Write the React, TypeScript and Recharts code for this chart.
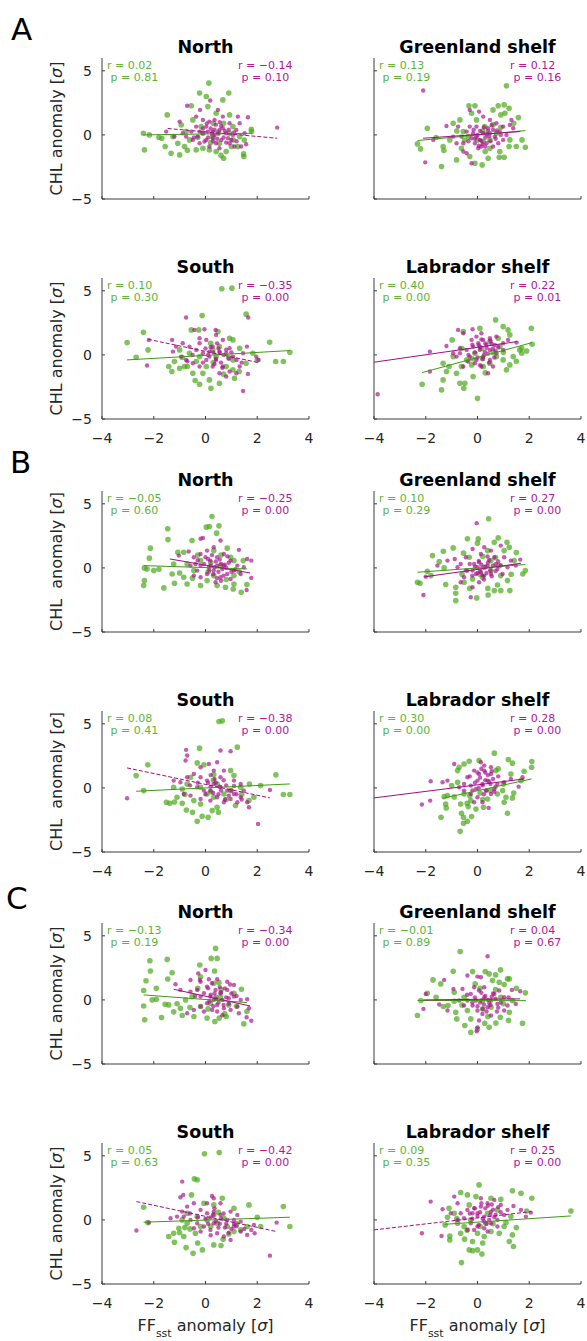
import React from 'react';
import { ScatterChart, Scatter, XAxis, YAxis } from 'recharts';

type Pt = [number, number];

// ---------- A ----------
const aNorthGreen: Pt[] = [[-2.4,0.13],[-2.17,0],[-2.36,-1.17],[-1.69,-0.26],[-1.56,-0.91],[-1.48,1.56],[-1.33,-1.43],[-1.0,-1.56],[-1.07,-0.65],[-0.94,0.78],[-0.81,-0.91],[-0.55,2.27],[-0.23,3.26],[0.03,3.0],[0.13,4.04],[0.09,2.21],[0.67,2.73],[0.9,3.26],[0.93,1.56],[0.41,1.69],[0.54,-0.65],[0.8,-1.3],[0.7,-1.82],[1.06,-0.39],[1.32,-0.13],[1.47,-1.48],[1.48,-1.69],[1.78,0.26],[1.77,0.44],[-0.62,-0.39],[-0.36,-1.17],[-0.1,-1.04],[0.15,-1.17],[-0.17,0.65],[-0.75,0.26],[-1.26,-0.13],[0.28,-0.13],[1.06,0.65],[0.41,-1.3],[-0.49,1.17],[-0.1,0.13],[0.93,0.13],[1.25,-0.91],
  [0.2,-0.6],[0.5,0.2],[-0.3,-0.2],[1.0,-0.9],[0.7,0.9],[-0.7,-1.2],[1.5,-0.4],[0.3,0.9],[-1.8,-0.2],[0.6,-1.6]];
const aNorthMagenta: Pt[] = [[2.77,0.57],[1.57,-0.73],[1.64,1.38],[1.25,1.43],[-0.71,2.27],[-1.0,1.04],[-1.2,-0.13],[-1.52,0.26],[-0.21,1.95],[0.18,2.68],[0.35,1.17],[-0.36,0.65],[-0.1,0.13],[0.03,-0.39],[0.28,0.26],[0.54,0.39],[0.8,0.13],[1.06,0],[0.41,-0.65],[0.15,-0.91],[-0.23,-0.65],[-0.49,-0.39],[-0.75,-0.13],[0.67,1.43],[0.93,0.91],[1.19,0.39],[1.38,-0.91],[0.93,-0.65],[-0.1,1.17],[-0.36,1.43],[0.48,1.95],[0.03,0.65],[0.28,-0.26],[0.54,-1.04],[-0.23,0.26],[-0.55,0.26],[-0.88,0.13],[0.15,1.04],[0.67,0.52],[1.12,-0.91],[1.51,0.13],[-0.04,-0.52],[0.35,0],[0.09,0.26],[0.61,-0.39],[0.87,-0.26],[-0.3,-0.13],[1.32,0.91],
  [0.2,0.5],[0.4,0.8],[0.5,0.1],[0.7,-0.2],[0.9,0.4],[1.0,-0.4],[0.3,-0.5],[0.1,-0.2],[-0.1,0.5],[0.6,0.7],[0.8,-0.6],[1.1,0.2],[0.45,-0.3],[0.25,0.1],[0.75,0.3],[0.05,0.9],[-0.45,-0.2],[1.2,-0.5],[0.55,1.0],[0.35,0.4]];
const aNorthGreenFit: Pt[] = [[-2.4,0.0],[1.8,0.13]];
const aNorthMagentaFit: Pt[] = [[-1.46,0.5],[2.77,-0.26]];
const aNorthR = [0.02, -0.14];
const aNorthP = [0.81, 0.10];

const aGreenlandGreen: Pt[] = [[1.12,3.83],[-2.32,-0.7],[-2.2,-1.09],[-1.94,0.52],[-1.39,-2.47],[-1.33,-0.91],[-1.3,-1.22],[-0.94,0.91],[-0.81,-1.95],[-0.62,-1.04],[-0.68,1.17],[-0.33,2.27],[-0.1,2.27],[-0.23,1.69],[-0.04,1.17],[0.18,-2.34],[-0.1,-2.21],[0.41,-1.82],[0.6,1.95],[0.8,2.27],[1.03,2.34],[1.22,2.08],[0.9,1.56],[1.06,1.69],[1.58,1.35],[1.72,-0.39],[1.85,-0.96],[1.22,-0.91],[0.86,-1.3],[1.03,-1.74],[0.84,-1.74],[0.22,-0.52],[0.48,-0.39],[-0.36,-0.13],[-0.55,0.26],[0.28,0.65],[0.73,0.13],[1.25,-0.39],[-1.07,-0.39],[-0.3,-1.69],[0.48,-1.04],
  [0.0,-0.4],[0.6,0.8],[-0.5,-0.4],[1.4,0.9],[0.3,-1.3],[-1.6,-0.2],[1.5,-0.9],[0.9,0.6],[-0.8,0.3],[0.2,0.3]];
const aGreenlandMagenta: Pt[] = [[-2.1,3.46],[-2.02,-2.14],[-1.71,-0.39],[-1.2,0.7],[-0.75,0.65],[-0.55,-0.65],[-0.42,-1.43],[-0.23,-2.21],[-0.3,1.95],[0.06,1.82],[0.22,1.43],[0.48,1.17],[0.73,0.91],[0.99,0.65],[1.25,0.78],[1.38,0.52],[1.31,1.17],[-0.17,0.13],[-0.04,-0.13],[0.09,-0.39],[0.22,0.13],[0.35,-0.65],[-0.1,-0.65],[-0.23,-0.26],[-0.42,0.26],[-0.81,-0.65],[-0.94,-0.13],[0.48,0.13],[0.67,-0.13],[0.86,0.26],[0.8,-0.65],[0.15,-0.91],[0.03,-1.04],[0.6,-0.91],[0.99,-0.39],[1.12,0],[-0.55,-1.3],[-0.3,0.65],[-0.04,0.65],[0.41,0.52],[-0.62,-0.13],
  [0.1,0.3],[0.3,-0.2],[0.5,-0.5],[0.2,-0.7],[0.0,0.0],[0.4,0.3],[0.6,0.4],[-0.1,-0.3],[0.25,0.6],[0.7,-0.3],[0.45,-0.1],[0.15,-0.45],[-0.35,-0.5],[0.9,0.0],[0.55,0.75],[0.05,-0.85],[0.35,0.05],[-0.15,0.4],[0.75,0.35],[0.3,-0.9]];
const aGreenlandGreenFit: Pt[] = [[-2.32,-0.44],[1.85,0.34]];
const aGreenlandMagentaFit: Pt[] = [[-2.1,-0.26],[1.66,0.26]];
const aGreenlandR = [0.13, 0.12];
const aGreenlandP = [0.19, 0.16];

const aSouthGreen: Pt[] = [[-3.03,0.96],[-2.68,-0.18],[-2.4,1.77],[-2.22,0.39],[0.63,5.16],[1.02,5.21],[1.57,3.18],[-0.13,3.07],[2.48,0.99],[2.71,-0.52],[3.01,-0.52],[3.26,0.21],[-0.55,1.95],[-0.26,1.95],[0.48,1.82],[0.93,1.3],[1.06,1.17],[1.32,0.52],[-0.23,-2.29],[0.21,-2.6],[0.15,-1.95],[0.54,-2.21],[1.12,-1.82],[-1.0,-1.04],[-0.81,-0.91],[-1.42,-0.91],[-1.2,-0.52],[-0.49,-1.43],[-0.1,-1.43],[0.03,-0.91],[0.8,-0.91],[1.06,-1.17],[0.41,-0.13],[-0.23,-0.13],[-0.62,0.13],[-1.0,0.39],[1.83,0.13],[1.57,-0.65],[1.06,-0.39],[0.28,0.39],[-0.36,-0.52],[0.54,0.65],
  [-0.9,-0.2],[0.3,-0.6],[-1.3,-1.3],[0.9,-0.2],[-0.4,-2.0],[1.3,-1.3],[0.2,0.9],[-0.7,-0.9],[2.0,-0.4],[0.7,-1.5]];
const aSouthMagenta: Pt[] = [[-2.26,-0.83],[-2.19,1.17],[-1.29,1.17],[-0.75,2.92],[-0.43,1.95],[-0.04,2.0],[0.39,1.95],[1.65,2.92],[0.41,1.56],[1.45,-2.81],[1.64,-1.48],[1.96,-0.13],[2.05,-0.39],[1.6,0.65],[1.32,-0.91],[1.19,-1.43],[0.93,-1.3],[0.67,-0.91],[0.41,-0.39],[0.15,-0.13],[-0.1,0.13],[-0.36,0.39],[-0.62,0.65],[-0.88,0.91],[-1.14,0.65],[-1.26,0.26],[-0.23,0.91],[0.28,0.65],[0.54,0.26],[0.8,0.13],[1.06,-0.13],[0.03,-0.39],[-0.23,-0.91],[-0.49,-0.65],[-0.75,-0.39],[0.28,-0.91],[0.54,-1.43],[0.8,-1.69],[0.03,1.17],[0.67,1.17],[0.93,0.52],[1.45,0.13],[-0.23,1.3],[-0.94,-0.13],[0.15,0.26],
  [0.3,0.2],[0.5,0.5],[0.7,0.0],[0.4,-0.3],[0.6,-0.6],[0.2,0.6],[0.9,-0.3],[0.1,0.0],[0.8,0.4],[0.45,0.9],[1.2,-0.4],[0.65,-1.0],[-0.5,0.0],[0.0,0.5],[1.0,0.2],[0.35,-0.7],[-0.7,-0.5],[1.4,-0.6],[0.55,0.15],[-0.1,-0.6]];
const aSouthGreenFit: Pt[] = [[-3.03,-0.39],[3.26,0.34]];
const aSouthMagentaFit: Pt[] = [[-2.22,1.22],[2.05,-0.6]];
const aSouthR = [0.10, -0.35];
const aSouthP = [0.30, 0.00];

const aLabradorGreen: Pt[] = [[0.7,2.73],[0.99,2.21],[1.18,1.95],[2.08,2.08],[2.11,0.83],[1.71,0.13],[1.71,0.52],[-2.14,-2.29],[-1.39,-2.73],[-1.33,-1.95],[-1.2,-1.3],[-1.33,-0.65],[-0.98,1.17],[-0.55,1.82],[0.09,2.08],[0,-3.39],[-0.53,-2.6],[-0.68,-2.21],[-0.49,-2.21],[-0.17,-1.69],[-0.81,-1.43],[-0.62,-0.91],[-0.42,-0.39],[-0.23,-0.78],[0.22,-0.91],[0.48,-0.65],[0.73,-0.13],[0.99,-0.39],[1.25,-0.78],[1.12,-1.17],[1.38,-0.13],[1.63,0.39],[0.86,0.65],[0.48,1.04],[1.25,1.56],[-0.1,0.13],[-0.94,-0.13],[0.15,0.52],
  [0.2,-0.3],[0.6,0.2],[-0.2,-0.3],[1.0,0.2],[0.3,-1.4],[1.5,-0.5],[-0.6,0.5],[0.8,1.3],[-1.1,-0.9],[1.9,0.3]];
const aLabradorMagenta: Pt[] = [[-3.86,-3.07],[-1.84,0.26],[-1.84,-1.3],[-1.2,0.7],[-0.75,1.95],[-0.19,2.0],[-0.55,1.69],[1.51,0.96],[1.18,1.17],[0.99,0.39],[0.73,1.43],[0.48,1.3],[0.22,1.17],[-0.04,1.43],[0.15,1.69],[0.35,0.78],[0.09,0.39],[-0.17,0.65],[-0.42,0.39],[-0.68,0.13],[-0.81,-0.13],[-0.94,0.13],[-0.3,-0.13],[-0.04,-0.39],[0.22,-0.13],[0.48,-0.39],[0.6,-0.91],[0.41,-1.43],[0.15,-0.91],[-0.1,-0.65],[-0.36,-0.52],[-0.55,-0.91],[0.48,0.39],[0.67,0.78],[0.73,0.13],[0.99,0.91],[0.03,0.91],[-0.23,1.17],[0.28,0.26],[-0.68,0.52],
  [0.1,0.6],[0.3,0.9],[0.4,0.1],[0.2,-0.3],[0.6,0.5],[-0.1,0.2],[0.5,1.1],[0.0,-0.2],[0.35,0.55],[0.7,0.3],[-0.2,0.8],[0.15,1.2],[0.45,-0.6],[0.55,0.85],[0.25,0.0],[-0.35,0.0],[0.8,0.6],[0.05,0.75],[0.65,-0.2],[0.1,-0.8]];
const aLabradorGreenFit: Pt[] = [[-2.14,-1.38],[2.11,0.96]];
const aLabradorMagentaFit: Pt[] = [[-4,-0.57],[1.53,1.04]];
const aLabradorR = [0.40, 0.22];
const aLabradorP = [0.00, 0.01];

// ---------- B ----------
const bNorthGreen: Pt[] = [[-2.39,-1.38],[-2.36,-0.99],[-2.36,0],[-2.17,0.76],[-2.13,1.54],[-2.26,-0.08],[-2.0,-0.21],[-1.46,3.05],[-1.45,2.21],[-1.61,-1.56],[-1.29,-0.47],[-1.2,-1.2],[-1.07,1.22],[-0.84,1.22],[-0.52,2.14],[-0.19,-1.38],[0.03,3.18],[0.15,3.23],[0.25,4.01],[0.52,3.28],[0.43,2.71],[0.84,1.54],[0.97,0.83],[1.1,0.57],[1.46,0.57],[1.07,-1.64],[1.38,-1.9],[1.1,-1.25],[0.77,-1.51],[0.45,-1.38],[0.06,-0.99],[-0.71,-1.25],[-0.84,-0.73],[-0.45,-0.21],[-0.71,0.31],[0.32,1.35],[0.58,0.18],[0.32,-0.6],[1.1,-0.6],[-0.19,0.57],[-1.23,0.31],
  [0.1,-0.3],[0.8,-0.9],[-0.5,-0.8],[0.6,1.0],[1.3,-0.3],[-1.0,-0.4],[-1.8,-0.1],[0.2,0.4],[1.6,-1.3],[-0.3,1.0]];
const bNorthMagenta: Pt[] = [[-0.19,2.27],[-0.1,2.34],[-0.65,1.28],[-1.03,0.96],[1.29,1.41],[1.61,0.7],[1.77,0.57],[1.77,-0.78],[1.59,-1.72],[0.58,2.14],[0.32,1.61],[0.06,1.35],[-0.19,1.09],[-0.45,0.83],[-0.58,0.18],[-0.32,-0.21],[-0.06,0.31],[0.19,0.57],[0.45,0.83],[0.71,1.09],[0.97,0.57],[1.23,0.18],[1.1,-0.21],[0.84,-0.47],[0.58,-0.73],[0.32,-0.21],[0.06,-0.47],[-0.19,-0.73],[-0.45,-0.6],[0.45,0.18],[0.13,0.05],[0.71,0.18],[0.97,-0.86],[1.36,-0.47],[0,0.83],[0.39,-1.12],[0.65,-0.08],[-0.39,0.31],[1.48,0.05],[-0.19,0.18],
  [0.2,0.2],[0.4,0.5],[0.6,0.3],[0.8,0.0],[0.5,-0.3],[0.3,-0.5],[0.9,0.4],[0.1,0.7],[0.7,-0.6],[1.0,-0.3],[0.35,0.05],[0.55,0.65],[0.15,-0.2],[0.75,0.25],[1.15,-0.1],[0.45,-0.8],[-0.3,0.6],[0.6,-1.0],[0.85,0.9],[0.25,1.0]];
const bNorthGreenFit: Pt[] = [[-2.39,0.18],[1.61,-0.08]];
const bNorthMagentaFit: Pt[] = [[-1.38,0.7],[1.72,-0.39]];
const bNorthR = [-0.05, -0.25];
const bNorthP = [0.60, 0.00];

const bGreenlandGreen: Pt[] = [[0.43,3.83],[-2.32,-1.12],[-2.22,-1.2],[-1.94,-0.26],[-1.74,0.96],[-1.48,0.49],[-1.32,1.3],[-1.29,0],[-0.94,1.56],[-1.23,-1.3],[-0.84,-1.51],[-0.84,-1.98],[-0.84,-2.55],[-0.54,1.15],[-0.39,2.27],[0.03,2.27],[0,1.93],[-0.32,0.83],[-0.03,-2.34],[0.41,-2.11],[0.65,-1.77],[0.9,-1.77],[1.25,-1.77],[0.77,-1.33],[1.16,-0.99],[0.65,2.0],[0.8,2.34],[1.14,2.0],[1.23,1.61],[1.03,1.35],[1.75,-0.47],[1.85,-0.21],[1.42,0.57],[0.84,0.18],[0.52,-0.21],[0.19,-0.73],[-0.19,-0.86],[-0.52,-1.12],[0.39,1.35],[0.52,0.57],[0.26,0.05],
  [0.1,-0.5],[0.7,0.8],[-0.6,-0.5],[1.5,1.2],[0.4,-1.6],[-1.8,-0.6],[1.3,-0.5],[0.2,0.9],[-0.3,-1.6],[0.9,-0.6]];
const bGreenlandMagenta: Pt[] = [[-0.03,3.49],[-2.09,-2.11],[-2.0,-0.68],[-1.55,0.18],[-1.16,0.57],[-0.88,0.7],[-0.65,0.31],[-0.39,-0.21],[-0.26,-2.29],[-0.19,1.48],[0.13,1.09],[0.39,0.89],[0.65,0.83],[1.03,0.83],[1.29,0.57],[1.65,0.65],[1.48,0.18],[0,0.05],[0.13,-0.34],[0.26,-0.6],[-0.06,-0.47],[-0.19,-0.21],[-0.13,0.31],[0.06,0.44],[0.39,0.18],[0.52,-0.47],[0.77,-0.08],[0.97,-0.47],[-0.52,-0.73],[-0.65,-1.12],[-0.19,-1.51],[0.06,-1.12],[0.52,1.35],[0.9,1.74],[0.26,1.61],[-0.77,0.05],[-0.45,0.83],[1.16,0.05],[0.71,0.31],
  [0.1,-0.2],[0.3,0.1],[0.2,-0.6],[0.5,-0.2],[0.4,0.4],[-0.1,0.1],[0.6,0.2],[0.0,-0.4],[0.35,-0.4],[0.15,0.25],[-0.2,-0.6],[0.7,-0.25],[0.45,0.6],[0.25,-0.9],[-0.3,0.3],[0.8,0.5],[0.05,0.55],[0.55,-0.65],[0.9,0.2],[-0.45,-0.2]];
const bGreenlandGreenFit: Pt[] = [[-2.32,-0.34],[1.85,0.26]];
const bGreenlandMagentaFit: Pt[] = [[-2.06,-0.7],[1.68,0.36]];
const bGreenlandR = [0.10, 0.27];
const bGreenlandP = [0.29, 0.00];

const bSouthGreen: Pt[] = [[-2.68,0.96],[-2.39,-0.21],[-2.23,1.8],[0.52,5.18],[0.65,5.23],[1.23,3.18],[-0.23,3.1],[2.72,1.02],[3.01,-0.52],[3.26,-0.52],[-0.32,1.95],[-0.06,1.8],[0.32,1.04],[0.97,1.35],[1.1,0.96],[1.36,0.05],[-0.32,-2.6],[-0.13,-2.21],[0.1,-2.29],[0.26,-1.77],[0.45,-1.51],[1.16,-1.38],[1.68,-0.99],[-0.74,-1.72],[-1.38,-1.2],[-1.51,-1.12],[-1.1,-0.73],[-0.9,-0.08],[-0.71,0.31],[-0.45,-0.99],[-0.19,-1.25],[0.06,-0.47],[0.32,-0.73],[0.71,-0.47],[0.97,-0.21],[0.45,0.31],[-0.19,0.05],[2.13,0.18],[1.87,-0.73],[-1.23,0.05],[-0.58,0.83],
  [-0.8,-0.5],[0.2,-0.3],[-1.2,-1.1],[0.8,-0.9],[-0.5,-1.9],[1.4,-0.5],[0.3,0.6],[-0.9,-1.2],[1.7,0.3],[0.5,-1.9]];
const bSouthMagenta: Pt[] = [[-3.03,-0.81],[-0.75,2.97],[-0.71,2.53],[-0.77,2.14],[0.58,2.92],[0.97,2.86],[2.03,-2.81],[2.49,-0.16],[1.68,-1.51],[1.61,-1.12],[1.36,-0.73],[1.1,-0.47],[0.84,-0.21],[0.58,0.05],[0.32,0.31],[0.06,0.57],[-0.19,0.83],[-0.45,1.09],[-0.71,0.83],[-0.97,0.44],[-1.23,0.57],[-0.19,1.61],[0.13,1.87],[0.45,2.0],[0.71,1.35],[1.1,0.57],[1.36,0.31],[1.48,-0.21],[0.97,-0.86],[0.71,-1.12],[0.45,-0.73],[0.19,-0.21],[-0.06,-0.21],[-0.32,0.05],[-0.58,-0.6],[-0.84,-0.47],[-0.19,-0.86],[0.19,-0.99],[1.23,-1.12],[0.58,0.83],[0.32,1.35],
  [0.2,0.1],[0.4,0.4],[0.6,-0.2],[0.8,0.2],[0.5,-0.5],[0.3,-0.4],[1.0,-0.2],[0.1,0.4],[0.7,0.6],[0.9,-0.6],[1.2,-0.5],[0.35,0.7],[-0.3,0.4],[0.55,0.1],[0.0,-0.5],[1.4,-0.9],[-0.6,0.2],[0.75,-0.9],[0.2,1.0],[1.1,0.15]];
const bSouthGreenFit: Pt[] = [[-2.68,-0.26],[3.26,0.31]];
const bSouthMagentaFit: Pt[] = [[-3.03,1.56],[2.49,-0.78]];
const bSouthR = [0.08, -0.38];
const bSouthP = [0.41, 0.00];

const bLabradorGreen: Pt[] = [[0.65,2.71],[1.19,2.21],[1.35,1.93],[2.1,2.06],[2.09,1.61],[1.16,-1.98],[1.35,-0.78],[-1.41,-2.29],[-1.21,-1.56],[-1.23,-1.25],[-1.16,-0.6],[-1.29,-0.68],[-0.67,-3.39],[-0.54,-2.76],[-0.54,-2.29],[-0.39,-2.6],[-0.23,-2.24],[-0.62,-1.98],[-0.65,-1.25],[-0.36,-1.46],[-0.06,-1.64],[0.23,-1.51],[0.39,-0.86],[0.77,-0.47],[1.03,-1.12],[1.1,-0.73],[0.97,-0.21],[-0.52,-0.47],[-0.26,-0.99],[-0.77,1.35],[-0.71,1.61],[-0.52,1.87],[-0.32,2.08],[0.06,2.14],[0.71,1.35],[1.29,1.09],[1.68,0.57],[-0.77,0.44],[-1.0,0.18],
  [0.1,-0.4],[0.5,-0.2],[-0.3,-0.6],[1.0,0.3],[0.2,-0.9],[1.4,-0.4],[-0.9,-0.7],[0.8,1.5],[-0.4,-1.2],[1.8,1.3]];
const bLabradorMagenta: Pt[] = [[-2.15,-1.3],[-1.83,-0.99],[-1.81,0.52],[-1.35,0.44],[-1.16,0.57],[-0.9,1.87],[0.13,2.0],[-0.52,0.31],[-0.39,0.83],[-0.13,1.35],[0.06,1.09],[0.26,1.35],[0.52,1.09],[0.39,0.57],[0.19,0.31],[0,0.57],[-0.26,0.18],[-0.52,-0.21],[-0.26,-0.47],[0,-0.73],[0.19,-1.12],[0.43,-1.56],[-0.13,-1.12],[0.52,-0.47],[0.77,0.31],[1.03,0.44],[1.29,0.7],[1.59,0.1],[1.74,0.83],[0.65,-0.08],[0.32,-0.21],[-0.06,-0.08],[-0.71,0.05],[0.52,1.61],[0.26,1.74],
  [0.1,0.8],[0.3,0.6],[0.2,0.2],[0.4,1.0],[0.5,0.3],[0.0,1.2],[0.6,0.7],[-0.1,0.4],[0.35,-0.2],[0.15,1.5],[0.7,0.1],[0.45,0.5],[-0.3,0.9],[0.25,-0.5],[0.05,0.0],[0.55,1.3],[0.8,0.9],[-0.2,-0.2],[0.3,1.2],[0.65,-0.3]];
const bLabradorGreenFit: Pt[] = [[-1.35,-0.81],[2.09,0.7]];
const bLabradorMagentaFit: Pt[] = [[-4,-0.78],[1.81,0.7]];
const bLabradorR = [0.30, 0.28];
const bLabradorP = [0.00, 0.00];

// ---------- C ----------
const cNorthGreen: Pt[] = [[-2.39,0.73],[-2.39,-0.47],[-2.35,-1.55],[-2.3,1.5],[-2.15,3.06],[-2.13,2.25],[-2.06,0],[-1.9,0.05],[-1.7,-1.37],[-1.56,-0.34],[-1.48,3.16],[-1.46,1.63],[-1.29,2.12],[-1.42,-0.39],[-1.23,-0.93],[-0.9,-1.22],[-0.77,0],[-0.52,0.26],[-0.22,2.72],[-0.19,1.81],[0.22,3.24],[0.39,4.02],[0.45,3.24],[0.35,2.25],[0.32,1.3],[0.52,1.35],[0.06,-1.42],[0.36,-1.68],[0.53,-1.42],[0.74,-1.09],[1.48,-1.87],[1.39,0.83],[1.1,0.52],[0.9,-0.39],[0.58,0.26],[-0.19,-0.52],[-0.45,-1.3],[0.19,-0.26],[-0.97,-0.65],
  [0.1,-0.7],[0.8,-1.3],[-0.6,-0.6],[0.6,0.8],[1.2,-0.5],[-1.1,-0.3],[-1.9,0.9],[0.4,0.2],[1.6,-0.9],[-0.3,0.9]];
const cNorthMagenta: Pt[] = [[-1.16,1.22],[-0.97,0.78],[-0.58,1.55],[-0.19,1.42],[-0.28,2.07],[-0.22,1.55],[0,2.33],[0.13,1.61],[0.45,1.61],[0.84,1.42],[1.1,1.17],[1.61,0.05],[1.77,-1.63],[1.59,-1.35],[1.68,-0.65],[-0.71,-1.04],[-0.45,-0.78],[-0.19,-0.52],[0.06,-0.26],[0.32,0],[0.58,0.52],[0.84,0.78],[1.1,0.26],[1.36,0],[1.23,-0.52],[0.97,-0.78],[0.71,-0.65],[0.45,-0.39],[0.19,0.26],[-0.06,0.52],[-0.32,0.78],[-0.58,0.65],[0.06,1.04],[0.39,0.78],[0.65,0],[0.9,0.13],[-0.06,-0.91],[0.26,-0.78],[-0.19,0.26],[1.29,-1.04],
  [0.2,0.4],[0.4,0.1],[0.6,0.6],[0.8,0.2],[0.5,-0.2],[0.3,-0.5],[0.9,-0.3],[0.1,0.9],[0.7,-0.4],[1.0,0.5],[0.35,0.5],[0.55,1.0],[0.15,-0.1],[0.75,0.9],[1.2,0.3],[0.45,-0.9],[-0.4,0.3],[0.65,-1.2],[0.95,1.2],[0.25,1.3]];
const cNorthGreenFit: Pt[] = [[-2.39,0.39],[1.61,-0.21]];
const cNorthMagentaFit: Pt[] = [[-1.23,0.83],[1.72,-0.47]];
const cNorthR = [-0.13, -0.34];
const cNorthP = [0.19, 0.00];

const cGreenlandGreen: Pt[] = [[-0.67,3.78],[-2.32,-1.22],[-2.19,-0.05],[-1.94,0.52],[-1.72,1.56],[-1.42,1.25],[-1.32,-0.52],[-1.14,-0.44],[-0.94,2.24],[-0.9,0.6],[-0.84,-0.96],[-0.8,-1.48],[-0.49,-2.0],[-0.26,-2.53],[-0.19,2.21],[-0.09,1.25],[0.3,2.21],[0.45,2.03],[0.7,1.95],[0.89,2.34],[0.58,1.51],[0.84,1.38],[1.16,1.64],[1.23,1.64],[1.03,1.2],[1.85,0.55],[1.74,-1.82],[1.23,-0.96],[0.88,-1.35],[0.71,-1.8],[0.45,-2.14],[0.28,-1.82],[0,-2.27],[-0.26,-1.48],[-0.39,-0.83],[0.52,-0.57],[0.19,-0.05],[0.9,0.21],[-0.52,0.21],[1.35,-0.05],
  [0.2,-0.7],[0.7,0.8],[-0.6,-0.4],[1.5,0.9],[0.4,-1.3],[-1.6,0.2],[1.2,-1.6],[0.1,0.9],[-0.9,-0.1],[1.0,-0.3]];
const cGreenlandMagenta: Pt[] = [[0.39,3.41],[-2.09,-0.7],[-2.0,0.47],[-1.48,-0.36],[-1.29,1.56],[-1.16,-0.83],[-0.93,0.86],[-0.58,0.86],[-0.39,1.9],[0,1.82],[0.13,1.77],[0,-2.14],[-0.03,-2.45],[1.33,0.78],[1.65,0.68],[1.48,-0.31],[1.16,-0.44],[1.03,-0.83],[0.77,-0.31],[0.52,-0.05],[0.26,0.21],[0.06,0.73],[-0.13,0.99],[-0.26,0.47],[-0.39,-0.05],[-0.19,-0.44],[0,-0.83],[0.19,-1.09],[0.39,-0.57],[0.65,0.47],[0.84,0.73],[1.03,0.21],[-0.52,-0.44],[-0.71,-0.05],[0.26,0.99],[-0.06,-0.05],[0.52,-1.22],[0.06,-1.61],
  [0.1,-0.2],[0.3,0.3],[0.5,-0.4],[0.2,-0.7],[0.7,0.1],[0.4,0.0],[-0.1,0.2],[0.6,0.5],[0.9,-0.2],[0.0,-0.5],[0.35,-0.9],[0.8,-0.6],[-0.2,-0.2],[0.55,0.25],[0.15,0.55],[1.2,0.2],[0.45,-0.25],[-0.4,0.4],[0.25,-0.35],[0.75,-0.9]];
const cGreenlandGreenFit: Pt[] = [[-2.32,-0.04],[1.87,-0.06]];
const cGreenlandMagentaFit: Pt[] = [[-2.09,0],[1.65,0.08]];
const cGreenlandR = [-0.01, 0.04];
const cGreenlandP = [0.89, 0.67];

const cSouthGreen: Pt[] = [[-2.39,0.99],[-2.23,-0.21],[-0.04,5.16],[0.53,5.26],[-0.43,3.2],[-0.32,3.13],[-0.54,1.95],[-0.06,1.3],[0.32,1.17],[0.65,1.69],[1.1,0.91],[1.68,1.17],[3.01,1.04],[3.26,-0.52],[2.13,-0.52],[-1.23,-1.04],[-1.2,-1.74],[-0.75,-2.16],[-0.48,-2.6],[-0.12,-2.34],[0.32,-1.95],[0.68,-1.51],[1.1,-0.91],[1.36,-0.78],[-0.71,-0.26],[-0.9,0],[-1.03,-0.65],[-0.39,-1.04],[-0.19,-0.52],[0.06,0],[0.45,-0.26],[0.84,-0.52],[-0.71,0.52],[-0.32,0.26],[0.32,0.39],[0.71,0.13],[1.61,-0.52],[-1.42,-1.3],[-0.84,-1.3],
  [-0.6,-0.7],[0.2,-0.5],[-1.0,-1.0],[0.9,-1.1],[-0.3,-1.8],[1.2,-0.3],[0.5,0.6],[-0.8,-0.6],[2.0,0.2],[0.6,-2.0]];
const cSouthMagenta: Pt[] = [[-2.67,-0.83],[-2.19,-0.21],[-0.9,2.99],[-0.86,1.95],[-0.97,1.77],[0.25,1.87],[0.32,1.69],[2.49,-2.79],[2.75,-0.21],[1.9,-1.04],[1.77,-0.78],[1.61,-1.17],[1.36,-0.91],[1.1,-0.52],[0.97,-1.56],[0.71,-1.3],[0.45,-1.04],[0.19,-0.78],[-0.06,-0.52],[-0.32,-0.26],[-0.58,0],[-0.84,0.26],[-1.1,0.26],[-1.35,0.13],[-0.71,1.04],[-0.45,1.3],[-0.19,0.78],[0.06,0.52],[0.32,0.65],[0.58,0.39],[0.84,0],[1.1,0],[1.36,-0.13],[0.58,1.3],[0.06,1.3],[-0.19,-0.91],[-0.45,-0.65],[0.32,-0.26],[0.97,0.65],[1.23,0.39],[1.87,-0.39],[-0.9,0.65],
  [0.2,0.2],[0.4,-0.1],[0.6,0.1],[0.8,-0.3],[0.5,-0.6],[0.3,0.4],[1.0,-0.7],[0.1,-0.3],[0.7,0.5],[0.9,-1.0],[1.2,-0.5],[0.35,0.9],[-0.3,0.2],[0.55,-0.3],[0.0,0.1],[1.5,-0.7],[-0.6,0.5],[0.75,-0.6],[0.2,-1.2],[1.1,-0.3]];
const cSouthGreenFit: Pt[] = [[-2.39,-0.18],[3.26,0.21]];
const cSouthMagentaFit: Pt[] = [[-2.67,1.43],[2.75,-0.91]];
const cSouthR = [0.05, -0.42];
const cSouthP = [0.63, 0.00];

const cLabradorGreen: Pt[] = [[3.61,0.7],[0.06,2.73],[-0.65,2.14],[-0.39,1.95],[-0.06,1.82],[0.52,1.69],[1.35,2.27],[1.68,2.08],[2.1,1.69],[-1.1,0.91],[-1.16,0.21],[-1.25,-0.39],[-1.07,-1.25],[-1.07,-1.56],[-0.62,-3.33],[-0.32,-2.34],[-0.19,-2.4],[0,-2.34],[0.17,-2.66],[-0.19,-1.69],[0,-1.04],[0.26,-1.3],[0.52,-0.91],[0.84,-1.04],[1.23,-1.69],[1.39,-2.08],[1.35,-1.17],[1.03,-0.52],[1.29,0.26],[0.77,0.78],[0.39,0.52],[-0.26,0],[-0.52,-0.52],[-0.77,-0.26],[-0.9,0.52],[-0.32,1.17],[0.32,-0.26],[-0.65,-1.04],
  [0.1,-0.5],[0.6,-0.3],[-0.4,-0.8],[1.1,-0.2],[0.2,-1.8],[1.5,-0.6],[-0.8,0.1],[0.9,1.6],[-0.5,-1.5],[1.9,0.7]];
const cLabradorMagenta: Pt[] = [[-2.15,-1.04],[-1.81,1.43],[-1.39,-1.25],[-1.35,0.83],[-1.03,0.52],[-0.9,1.82],[-0.77,1.3],[2.06,0.57],[1.87,0.26],[1.68,0.78],[1.39,1.09],[1.16,0.78],[0.9,1.17],[0.65,1.56],[0.39,1.3],[0.13,1.04],[-0.13,0.91],[-0.39,0.78],[-0.65,0.52],[-0.52,0.13],[-0.26,-0.26],[0,-0.52],[0.26,-0.65],[0.52,-0.26],[0.77,0],[1.03,0.39],[0,0.52],[0.26,0.26],[0.52,0.65],[0.13,1.69],[-0.13,-0.78],[-0.39,-0.78],[0.39,-0.91],[-0.77,0],[-0.19,0.52],[0.77,-0.52],
  [0.1,0.6],[0.3,0.9],[0.2,0.1],[0.5,0.4],[0.4,1.1],[0.0,0.3],[0.6,0.8],[-0.1,0.9],[0.35,-0.3],[0.15,1.3],[0.7,0.4],[0.45,0.0],[-0.3,0.5],[0.25,-0.1],[0.8,1.0],[0.55,1.2],[-0.2,0.1],[0.9,0.6],[0.05,-0.4],[0.65,0.2]];
const cLabradorGreenFit: Pt[] = [[-1.26,-0.34],[3.61,0.31]];
const cLabradorMagentaFit: Pt[] = [[-4,-0.78],[2.09,0.65]];
const cLabradorR = [0.09, 0.25];
const cLabradorP = [0.35, 0.00];

const X_TICKS = [-4, -2, 0, 2, 4];
const Y_TICKS = [-5, 0, 5];
const GROUP_LETTERS = ['A', 'B', 'C'];

// layout (px)
const FONT = '"DejaVu Sans", "Open Sans", sans-serif';
const PLOT_W = 207;
const PLOT_H = 141;
const COL_LEFT = [102, 374];
const ROW_TOP = [58, 278, 491, 711, 923, 1143];
const LETTER_Y = [40, 473, 909];
const LETTER_X = [11, 10, 6];
const ML = 40;
const MT = 10;
const MR = 12;
const XH = 32;

const GREEN_DOT = '#4aa81a';
const PINK_DOT = '#a8108a';
const GREEN_LINE = '#3f9a12';
const PINK_LINE = '#a30c86';
const GREEN_TXT = '#5db534';
const PINK_TXT = '#b0179a';
const AXIS = '#3c3c3c';
const INK = '#262626';

const toXY = (a: Pt[]) => a.map(([x, y]) => ({ x, y }));
const num = (v: number) => (v < 0 ? '\u2212' : '') + Math.abs(v).toFixed(2);
const tickNum = (v: number) => (v < 0 ? '\u2212' : '') + Math.abs(v);

type PanelDef = {
  group: number; row: number; col: number; title: string;
  green: Pt[]; magenta: Pt[]; greenFit: Pt[]; magentaFit: Pt[];
  r: number[]; p: number[]; dashed: boolean;
};

const panels: PanelDef[] = [
  { group: 0, row: 0, col: 0, title: 'North', green: aNorthGreen, magenta: aNorthMagenta, greenFit: aNorthGreenFit, magentaFit: aNorthMagentaFit, r: aNorthR, p: aNorthP, dashed: true },
  { group: 0, row: 0, col: 1, title: 'Greenland shelf', green: aGreenlandGreen, magenta: aGreenlandMagenta, greenFit: aGreenlandGreenFit, magentaFit: aGreenlandMagentaFit, r: aGreenlandR, p: aGreenlandP, dashed: false },
  { group: 0, row: 1, col: 0, title: 'South', green: aSouthGreen, magenta: aSouthMagenta, greenFit: aSouthGreenFit, magentaFit: aSouthMagentaFit, r: aSouthR, p: aSouthP, dashed: true },
  { group: 0, row: 1, col: 1, title: 'Labrador shelf', green: aLabradorGreen, magenta: aLabradorMagenta, greenFit: aLabradorGreenFit, magentaFit: aLabradorMagentaFit, r: aLabradorR, p: aLabradorP, dashed: false },
  { group: 1, row: 2, col: 0, title: 'North', green: bNorthGreen, magenta: bNorthMagenta, greenFit: bNorthGreenFit, magentaFit: bNorthMagentaFit, r: bNorthR, p: bNorthP, dashed: false },
  { group: 1, row: 2, col: 1, title: 'Greenland shelf', green: bGreenlandGreen, magenta: bGreenlandMagenta, greenFit: bGreenlandGreenFit, magentaFit: bGreenlandMagentaFit, r: bGreenlandR, p: bGreenlandP, dashed: false },
  { group: 1, row: 3, col: 0, title: 'South', green: bSouthGreen, magenta: bSouthMagenta, greenFit: bSouthGreenFit, magentaFit: bSouthMagentaFit, r: bSouthR, p: bSouthP, dashed: true },
  { group: 1, row: 3, col: 1, title: 'Labrador shelf', green: bLabradorGreen, magenta: bLabradorMagenta, greenFit: bLabradorGreenFit, magentaFit: bLabradorMagentaFit, r: bLabradorR, p: bLabradorP, dashed: false },
  { group: 2, row: 4, col: 0, title: 'North', green: cNorthGreen, magenta: cNorthMagenta, greenFit: cNorthGreenFit, magentaFit: cNorthMagentaFit, r: cNorthR, p: cNorthP, dashed: false },
  { group: 2, row: 4, col: 1, title: 'Greenland shelf', green: cGreenlandGreen, magenta: cGreenlandMagenta, greenFit: cGreenlandGreenFit, magentaFit: cGreenlandMagentaFit, r: cGreenlandR, p: cGreenlandP, dashed: false },
  { group: 2, row: 5, col: 0, title: 'South', green: cSouthGreen, magenta: cSouthMagenta, greenFit: cSouthGreenFit, magentaFit: cSouthMagentaFit, r: cSouthR, p: cSouthP, dashed: true },
  { group: 2, row: 5, col: 1, title: 'Labrador shelf', green: cLabradorGreen, magenta: cLabradorMagenta, greenFit: cLabradorGreenFit, magentaFit: cLabradorMagentaFit, r: cLabradorR, p: cLabradorP, dashed: true },
];

// inward ticks, labels only on the outer axes
const XTick = (props: any) => {
  const { x, y, payload, showLabel } = props;
  return (
    <g>
      <line x1={x} x2={x} y1={y} y2={y - 3} stroke={AXIS} />
      {showLabel && (
        <text x={x} y={y + 24} textAnchor="middle" fontSize={14} fill={INK} fontFamily={FONT}>
          {tickNum(payload.value)}
        </text>
      )}
    </g>
  );
};

const YTick = (props: any) => {
  const { x, y, payload, showLabel } = props;
  return (
    <g>
      <line x1={x} x2={x + 3} y1={y} y2={y} stroke={AXIS} />
      {showLabel && (
        <text x={x - 10} y={y + 5} textAnchor="end" fontSize={14} fill={INK} fontFamily={FONT}>
          {tickNum(payload.value)}
        </text>
      )}
    </g>
  );
};

const dot = (r: number, fill: string, op: number) => (props: any) =>
  <circle cx={props.cx} cy={props.cy} r={r} fill={fill} fillOpacity={op} />;

const noDot = () => <g />;

function Panel({ p }: { p: PanelDef }) {
  const left = COL_LEFT[p.col];
  const top = ROW_TOP[p.row];
  const bottomRow = p.row % 2 === 1;
  return (
    <div style={{ position: 'absolute', left: left - ML, top: top - MT }}>
      <ScatterChart width={ML + PLOT_W + MR} height={MT + PLOT_H + XH} margin={{ top: MT, right: MR, bottom: 0, left: 0 }}>
        <XAxis
          type="number" dataKey="x" domain={[-4, 4]} ticks={X_TICKS} interval={0}
          height={XH} tickSize={0} tickMargin={0} tickLine={false}
          axisLine={{ stroke: AXIS }}
          tick={(t: any) => <XTick {...t} showLabel={bottomRow} />}
        />
        <YAxis
          type="number" dataKey="y" domain={[-5, 6]} ticks={Y_TICKS} interval={0}
          width={ML} tickSize={0} tickMargin={0} tickLine={false}
          axisLine={{ stroke: AXIS }}
          tick={(t: any) => <YTick {...t} showLabel={p.col === 0} />}
        />
        <Scatter data={toXY(p.green)} fill={GREEN_DOT} shape={dot(2.8, GREEN_DOT, 0.7)} isAnimationActive={false} />
        <Scatter data={toXY(p.magenta)} fill={PINK_DOT} shape={dot(2.2, PINK_DOT, 0.68)} isAnimationActive={false} />
        <Scatter data={toXY(p.greenFit)} fill={GREEN_LINE} shape={noDot} line={{ stroke: GREEN_LINE, strokeWidth: 1 }} isAnimationActive={false} />
        <Scatter
          data={toXY(p.magentaFit)} fill={PINK_LINE} shape={noDot}
          line={{ stroke: PINK_LINE, strokeWidth: 1, strokeDasharray: p.dashed ? '4 2' : undefined }}
          isAnimationActive={false}
        />
      </ScatterChart>
    </div>
  );
}

function Labels() {
  return (
    <svg width={587} height={1341} style={{ position: 'absolute', left: 0, top: 0, pointerEvents: 'none' }} fontFamily={FONT}>
      {GROUP_LETTERS.map((l, i) => (
        <text key={l} x={LETTER_X[i]} y={LETTER_Y[i]} fontSize={31} fill="#000">{l}</text>
      ))}
      {panels.map((p, i) => {
        const left = COL_LEFT[p.col];
        const top = ROW_TOP[p.row];
        const cx = left + PLOT_W / 2;
        const cy = top + PLOT_H / 2;
        return (
          <g key={i}>
            <text x={cx} y={top - 5} textAnchor="middle" fontSize={17.5} fontWeight="bold" fill="#000">{p.title}</text>
            <text x={left + 5} y={top + 10.5} fontSize={11} fill={GREEN_TXT} style={{ whiteSpace: 'pre' }}>{`r = ${num(p.r[0])}`}</text>
            <text x={left + 5} y={top + 23} fontSize={11} fill={GREEN_TXT} style={{ whiteSpace: 'pre' }}>{` p = ${num(p.p[0])}`}</text>
            <text x={left + 136} y={top + 10.5} fontSize={11} fill={PINK_TXT} style={{ whiteSpace: 'pre' }}>{`r = ${num(p.r[1])}`}</text>
            <text x={left + 136} y={top + 23} fontSize={11} fill={PINK_TXT} style={{ whiteSpace: 'pre' }}>{` p = ${num(p.p[1])}`}</text>
            {p.col === 0 && (
              <text transform={`translate(62, ${cy}) rotate(-90)`} textAnchor="middle" fontSize={16} fill={INK} style={{ whiteSpace: 'pre' }}>
                {p.group === 1 ? 'CHL  anomaly [' : 'CHL anomaly ['}
                <tspan fontStyle="italic">σ</tspan>]
              </text>
            )}
            {p.row === 5 && (
              <text x={cx} y={1331} textAnchor="middle" fontSize={16} fill={INK}>
                FF<tspan fontSize={11} dy={6}>sst</tspan>
                <tspan dy={-6} style={{ whiteSpace: 'pre' }}> anomaly [</tspan>
                <tspan fontStyle="italic">σ</tspan>
                <tspan>]</tspan>
              </text>
            )}
          </g>
        );
      })}
    </svg>
  );
}

export default function App() {
  return (
    <div style={{ position: 'absolute', left: 0, top: 0, width: 587, height: 1341, background: '#fff', fontFamily: FONT }}>
      {panels.map((p, i) => <Panel key={i} p={p} />)}
      <Labels />
    </div>
  );
}
